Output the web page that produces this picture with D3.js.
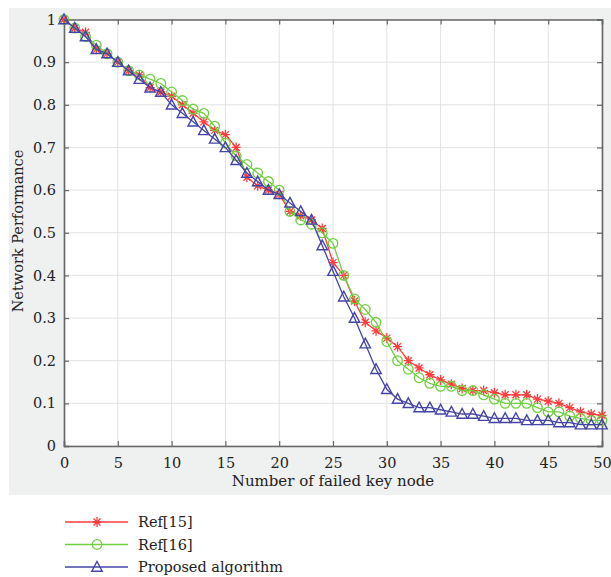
<!DOCTYPE html>
<html>
<head>
<meta charset="utf-8">
<script src="https://cdn.jsdelivr.net/npm/d3@7"></script>
<style>
  body { margin: 0; background: #fff; }
  text { font-family: "DejaVu Serif", "Liberation Serif", serif; fill: #222; }
</style>
</head>
<body>
<script>
// failed key node count 0..50
const nodes = d3.range(0, 51);

const ref15 = [1.0, 0.98, 0.97, 0.93, 0.92, 0.90, 0.88, 0.87, 0.84, 0.83,
  0.82, 0.80, 0.78, 0.76, 0.74, 0.73, 0.70, 0.63, 0.61, 0.60,
  0.59, 0.55, 0.54, 0.53, 0.51, 0.43, 0.40, 0.34, 0.29, 0.27,
  0.253, 0.233, 0.20, 0.183, 0.167, 0.155, 0.145, 0.135, 0.13, 0.13,
  0.125, 0.12, 0.12, 0.12, 0.11, 0.105, 0.10, 0.09, 0.08, 0.075, 0.072];

const ref16 = [1.0, 0.98, 0.96, 0.94, 0.92, 0.90, 0.88, 0.87, 0.86, 0.85,
  0.83, 0.81, 0.79, 0.78, 0.75, 0.71, 0.68, 0.66, 0.64, 0.62,
  0.60, 0.55, 0.53, 0.52, 0.50, 0.475, 0.40, 0.345, 0.32, 0.29,
  0.245, 0.20, 0.18, 0.16, 0.147, 0.14, 0.14, 0.13, 0.13, 0.12,
  0.11, 0.10, 0.10, 0.10, 0.09, 0.08, 0.08, 0.07, 0.065, 0.06, 0.06];

const proposed = [1.0, 0.98, 0.96, 0.93, 0.92, 0.90, 0.88, 0.86, 0.84, 0.83,
  0.80, 0.78, 0.76, 0.74, 0.72, 0.70, 0.67, 0.64, 0.62, 0.60,
  0.59, 0.57, 0.55, 0.53, 0.47, 0.41, 0.35, 0.30, 0.24, 0.18,
  0.133, 0.11, 0.10, 0.09, 0.09, 0.085, 0.08, 0.075, 0.075, 0.07,
  0.065, 0.065, 0.065, 0.06, 0.06, 0.06, 0.055, 0.055, 0.05, 0.05, 0.05];

const xTicks = [0, 5, 10, 15, 20, 25, 30, 35, 40, 45, 50];
const yTicks = [0, 0.1, 0.2, 0.3, 0.4, 0.5, 0.6, 0.7, 0.8, 0.9, 1];
const seriesNames = ['Ref[15]', 'Ref[16]', 'Proposed algorithm'];

const W = 611, H = 577;
const pLeft = 64, pRight = 602, pTop = 19.5, pBottom = 446;

const svg = d3.select('body').append('svg').attr('width', W).attr('height', H);

svg.append('rect').attr('x', 9).attr('y', 8).attr('width', W - 9).attr('height', 487).attr('fill', '#eff0f0');
svg.append('rect').attr('x', pLeft).attr('y', pTop).attr('width', pRight - pLeft).attr('height', pBottom - pTop).attr('fill', '#fff');

const x = d3.scaleLinear().domain([0, 50]).range([pLeft, pRight]);
const y = d3.scaleLinear().domain([0, 1]).range([pBottom, pTop]);

// grid
svg.append('g').selectAll('line').data(xTicks).enter().append('line')
  .attr('x1', d => x(d)).attr('x2', d => x(d)).attr('y1', pTop).attr('y2', pBottom)
  .attr('stroke', '#e2e2e2').attr('stroke-width', 1);
svg.append('g').selectAll('line').data(yTicks).enter().append('line')
  .attr('y1', d => y(d)).attr('y2', d => y(d)).attr('x1', pLeft).attr('x2', pRight)
  .attr('stroke', '#e2e2e2').attr('stroke-width', 1);

// axes (ticks inward, box all around)
const fmt = d => d === 0 ? '0' : d === 1 ? '1' : d3.format('.1f')(d);
const bottomAxis = d3.axisBottom(x).tickValues(xTicks).tickSize(-5).tickPadding(12);
const leftAxis = d3.axisLeft(y).tickValues(yTicks).tickSize(-5).tickPadding(8).tickFormat(fmt);
const topAxis = d3.axisTop(x).tickValues(xTicks).tickSize(-5).tickFormat('');
const rightAxis = d3.axisRight(y).tickValues(yTicks).tickSize(-5).tickFormat('');

svg.append('g').attr('transform', 'translate(0,' + pBottom + ')').call(bottomAxis);
svg.append('g').attr('transform', 'translate(' + pLeft + ',0)').call(leftAxis);
svg.append('g').attr('transform', 'translate(0,' + pTop + ')').call(topAxis);
svg.append('g').attr('transform', 'translate(' + pRight + ',0)').call(rightAxis);

svg.selectAll('.domain').attr('stroke', '#666').attr('stroke-width', 1.6);
svg.selectAll('.tick line').attr('stroke', '#666').attr('stroke-width', 1.2);
svg.selectAll('.tick text').style('font-size', '14.5px').style('font-family', '"DejaVu Serif", serif').attr('fill', '#222');

// labels
svg.append('text').attr('x', x(25)).attr('y', 486).attr('text-anchor', 'middle')
  .style('font-size', '15px').text('Number of failed key node');
svg.append('text').attr('transform', 'translate(23,' + 231 + ') rotate(-90)')
  .attr('text-anchor', 'middle').style('font-size', '14.5px').text('Network Performance');

// series
const series = [
  { name: seriesNames[0], values: ref15, color: '#ff3b3b', marker: 'star' },
  { name: seriesNames[1], values: ref16, color: '#6fcf3f', marker: 'circle' },
  { name: seriesNames[2], values: proposed, color: '#4444a8', marker: 'triangle' }
];

const line = d3.line().x((d, i) => x(nodes[i])).y(d => y(d));

function drawMarker(g, type, color) {
  if (type === 'circle') {
    g.append('circle').attr('r', 4.8).attr('fill', 'none').attr('stroke', color).attr('stroke-width', 1.3);
  } else if (type === 'triangle') {
    g.append('path').attr('d', 'M0,-5.5L5.2,4.2L-5.2,4.2Z').attr('fill', 'none').attr('stroke', color).attr('stroke-width', 1.4);
  } else {
    g.append('path').attr('d', 'M-4.5,0H4.5M0,-5V5M-3.5,-3.5L3.5,3.5M-3.5,3.5L3.5,-3.5')
      .attr('fill', 'none').attr('stroke', color).attr('stroke-width', 1.3);
  }
}

series.forEach(s => {
  const g = svg.append('g');
  g.append('path').datum(s.values).attr('d', line).attr('fill', 'none')
    .attr('stroke', s.color).attr('stroke-width', 1.3);
  g.selectAll('g.m').data(s.values).enter().append('g').attr('class', 'm')
    .attr('transform', (d, i) => 'translate(' + x(nodes[i]) + ',' + y(d) + ')')
    .each(function () { drawMarker(d3.select(this), s.marker, s.color); });
});

// legend
const legend = svg.append('g');
series.forEach((s, i) => {
  const ly = 522 + i * 22.5;
  legend.append('line').attr('x1', 65).attr('x2', 128).attr('y1', ly).attr('y2', ly)
    .attr('stroke', s.color).attr('stroke-width', 1.3);
  const mg = legend.append('g').attr('transform', 'translate(97,' + ly + ')');
  drawMarker(mg, s.marker, s.color);
  legend.append('text').attr('x', 138).attr('y', ly + 5).style('font-size', '14.5px').text(s.name);
});
</script>
</body>
</html>
